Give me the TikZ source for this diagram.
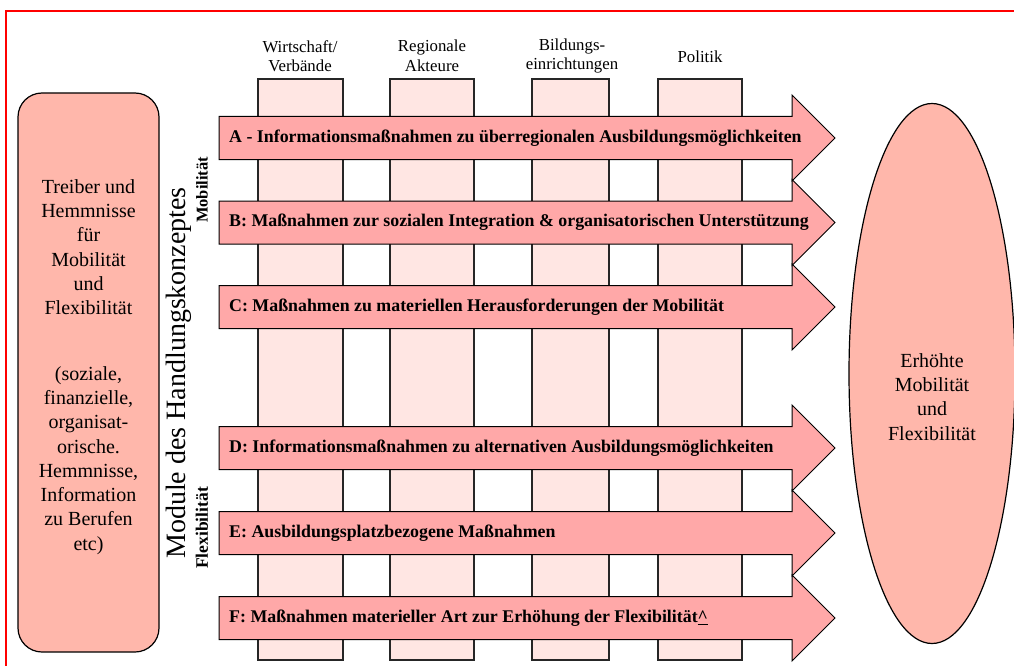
\documentclass[tikz,border=0pt]{standalone}
\usepackage{fontspec}
\setmainfont{Liberation Serif}
\usetikzlibrary{shapes.geometric}
\definecolor{arrfill}{RGB}{255,168,168}
\definecolor{boxfill}{RGB}{255,183,171}
\definecolor{colfill}{RGB}{255,230,227}
\definecolor{frame}{RGB}{255,0,0}
\tikzset{
  colbox/.style={draw=black!85, line width=1.2pt, fill=colfill, inner sep=0pt, outer sep=0pt, anchor=north west, minimum height=581pt},
  colhead/.style={align=center, font=\fontsize{16.8}{19.5}\selectfont, inner sep=0pt},
  arrowbody/.style={draw=black, line width=1pt, fill=arrfill, line join=miter},
  arrtext/.style={anchor=west, inner sep=0pt, font=\bfseries\fontsize{17.85}{21}\selectfont},
  sidebox/.style={draw=black, line width=1.2pt, fill=boxfill, rounded corners=24pt, inner sep=0pt},
  boxtext/.style={align=center, font=\fontsize{20}{24.3}\selectfont, inner sep=0pt},
  rotlabel/.style={rotate=90, inner sep=0pt}
}
\begin{document}
\begin{tikzpicture}[x=1pt,y=-1pt]
\useasboundingbox (0,0) rectangle (1014,666);
% red frame
\draw[frame, line width=2.2pt] (6,670) -- (6,11) -- (1020,11);

% column headers
\node[colhead] (h1) at (300,56) {Wirtschaft/\\Verbände};
\node[colhead] (h2) at (432,56) {Regionale\\Akteure};
\node[colhead] (h3) at (572,56) {Bildungs-\\einrichtungen};
\node[colhead] (h4) at (700,57) {Politik};

% columns
\node[colbox, minimum width=85pt] (c1) at (258,79) {};
\node[colbox, minimum width=84pt] (c2) at (390,79) {};
\node[colbox, minimum width=77pt] (c3) at (532,79) {};
\node[colbox, minimum width=84pt] (c4) at (658,79) {};

% arrows
\foreach \yc/\n/\lab in {
  138/a/{A - Informationsmaßnahmen zu überregionalen Ausbildungsmöglichkeiten},
  222.5/b/{B: Maßnahmen zur sozialen Integration \& organisatorischen Unterstützung},
  307/c/{C: Maßnahmen zu materiellen Herausforderungen der Mobilität},
  448/d/{D: Informationsmaßnahmen zu alternativen Ausbildungsmöglichkeiten},
  533/e/{E: Ausbildungsplatzbezogene Maßnahmen},
  618/f/{F: Maßnahmen materieller Art zur Erhöhung der Flexibilität\underline{\textasciicircum}}}
{
  \draw[arrowbody] (219,\yc-21.5) -- (792,\yc-21.5) -- (792,\yc-43) -- (835,\yc)
     -- (792,\yc+43) -- (792,\yc+21.5) -- (219,\yc+21.5) -- cycle;
  \node[arrtext] (\n) at (229,\yc) {\lab};
}

% left box
\node[sidebox, minimum width=141pt, minimum height=559pt] (left) at (88.5,372.5) {};
\node[boxtext] (lefttext) at (88.5,367) {Treiber und\\Hemmnisse\\für\\Mobilität\\und\\Flexibilität\\[41pt]
 (soziale,\\finanzielle,\\organisat-\\orische.\\Hemmnisse,\\Information\\zu Berufen\\etc)};

% rotated labels
\node[rotlabel, font=\fontsize{28}{34}\selectfont] (module) at (179,373) {Module des Handlungskonzeptes};
\node[rotlabel, font=\bfseries\fontsize{16.5}{20}\selectfont] (mob) at (202,190) {Mobilität};
\node[rotlabel, font=\bfseries\fontsize{17.5}{20}\selectfont] (flex) at (202,528) {Flexibilität};

% ellipse
\node[ellipse, draw=black, line width=1.2pt, fill=boxfill, minimum width=166pt, minimum height=540pt, inner sep=0pt] (goal) at (932,373.5) {};
\node[boxtext] (goaltext) at (932,397) {Erhöhte\\Mobilität\\und\\Flexibilität};
\end{tikzpicture}
\end{document}
